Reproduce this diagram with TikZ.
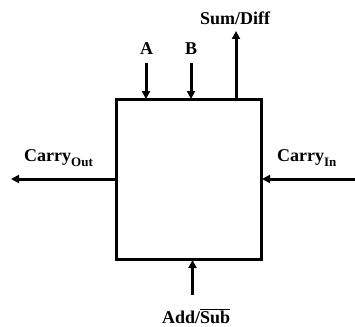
\documentclass[tikz,border=0pt]{standalone}
\usepackage{fontspec}
\setmainfont{Liberation Serif}
\usetikzlibrary{arrows.meta}
\newcommand{\subtxt}[1]{\raisebox{-5.5pt}{\fontsize{13}{13}\selectfont #1}}
\begin{document}
\begin{tikzpicture}[x=1pt,y=-1pt,
  sig/.style={line width=3pt,-{Triangle[length=8pt,width=8pt]}},
  lab/.style={font=\fontsize{18}{20}\selectfont\bfseries,inner sep=0pt,anchor=base west}]
\useasboundingbox (0,0) rectangle (355,326);
\node[draw,line width=2.4pt,minimum width=145pt,minimum height=160pt,inner sep=0pt] (box) at (189,179.5) {};
% top inputs
\coordinate (aS) at (146,63);
\coordinate (aE) at (146,99);
\coordinate (bS) at (191,63);
\coordinate (bE) at (191,99);
\coordinate (sS) at (236,99);
\coordinate (sE) at (236,31);
\draw[sig] (aS) -- (aE);
\draw[sig] (bS) -- (bE);
\draw[sig] (sS) -- (sE);
\node[lab] (la) at (140,55) {A};
\node[lab] (lb) at (185,55) {B};
\node[lab] (ls) at (200,25) {Sum/Diff};
% carries
\coordinate (coS) at (116,179);
\coordinate (coE) at (11,179);
\coordinate (ciS) at (355,179);
\coordinate (ciE) at (262,179);
\draw[sig] (coS) -- (coE);
\draw[sig] (ciS) -- (ciE);
\node[lab] (lco) at (24,161) {Carry\subtxt{Out}};
\node[lab] (lci) at (277,161) {Carry\subtxt{In}};
% add/sub
\coordinate (adS) at (192.5,295);
\coordinate (adE) at (192.5,260);
\draw[sig] (adS) -- (adE);
\node[lab] (lad) at (162,323) {Add/$\overline{\mbox{Sub}}$};
\end{tikzpicture}
\end{document}
